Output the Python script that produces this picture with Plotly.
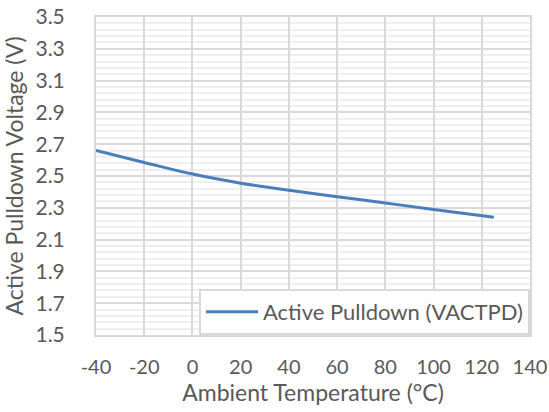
import plotly.graph_objects as go

temps = [-40, -20, 0, 20, 40, 60, 80, 100, 125]
vactpd = [2.66, 2.585, 2.512, 2.455, 2.41, 2.37, 2.33, 2.29, 2.24]
series_name = "Active Pulldown (VACTPD)"
x_ticks = [-40, -20, 0, 20, 40, 60, 80, 100, 120, 140]
y_ticks = [1.5, 1.7, 1.9, 2.1, 2.3, 2.5, 2.7, 2.9, 3.1, 3.3, 3.5]

FONT = "Lato"
TXT = "#595959"

fig = go.Figure()
fig.add_trace(go.Scatter(
    x=temps, y=vactpd, mode="lines", name=series_name,
    line=dict(color="#4a7ebb", width=3, shape="spline"),
))

fig.update_layout(
    width=549, height=412,
    margin=dict(l=96, r=19, t=17, b=77),
    paper_bgcolor="white", plot_bgcolor="white",
    font=dict(family=FONT, size=21, color=TXT),
    showlegend=True,
    legend=dict(
        x=1, xanchor="right", y=0, yanchor="bottom",
        bgcolor="white", bordercolor="#d9d9d9", borderwidth=2,
        itemwidth=52,
        font=dict(family=FONT, size=22, color=TXT),
    ),
)
fig.update_xaxes(
    range=[-40, 140], tickvals=x_ticks, ticktext=[str(v) for v in x_ticks],
    showgrid=True, gridcolor="#d9d9d9", gridwidth=2,
    showline=True, linecolor="#d9d9d9", linewidth=2, mirror=True,
    zeroline=False, ticks="outside", ticklen=13, tickcolor="rgba(0,0,0,0)",
    automargin=False, ticklabeloverflow="allow",
    title=dict(text="Ambient Temperature (°C)", font=dict(family=FONT, size=23, color=TXT), standoff=8),
    tickfont=dict(family=FONT, size=20, color=TXT),
)
fig.update_yaxes(
    range=[1.5, 3.5], tickvals=y_ticks, ticktext=[f"{v:.1f}" for v in y_ticks],
    showgrid=True, gridcolor="#d9d9d9", gridwidth=2,
    minor=dict(dtick=0.04, tick0=1.5, showgrid=True, gridcolor="#efefef", gridwidth=1.5),
    showline=True, linecolor="#d9d9d9", linewidth=2, mirror=True,
    zeroline=False, ticks="outside", ticklen=25, tickcolor="rgba(0,0,0,0)",
    automargin=False, ticklabeloverflow="allow",
    title=dict(text="Active Pulldown Voltage (V)", font=dict(family=FONT, size=23, color=TXT), standoff=9),
    tickfont=dict(family=FONT, size=21, color=TXT),
)

# remove the browser's default body margin so the 549x412 figure fills the window exactly
fig.write_html(
    "out.html",
    config={"displayModeBar": False},
    post_script="document.body.style.margin='0';document.body.style.overflow='hidden';",
)
